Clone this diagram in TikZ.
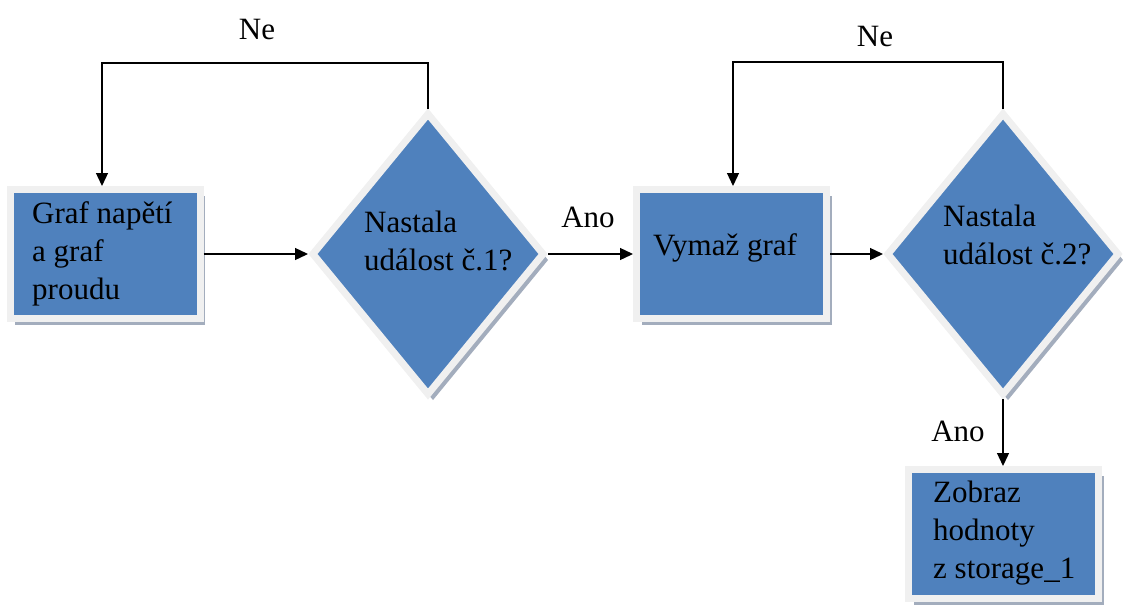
\documentclass[tikz,border=0pt]{standalone}
\usepackage{fontspec}
\setmainfont{Liberation Serif}
\usetikzlibrary{arrows.meta,shapes.geometric,shadows}
\definecolor{boxblue}{HTML}{4F81BD}
\definecolor{framegray}{HTML}{F0F0F0}
\definecolor{shadowgray}{HTML}{A3ADBD}
\begin{document}
\begin{tikzpicture}[x=1pt,y=-1pt,
  proc/.style={rectangle, fill=boxblue, draw=framegray, line width=7pt,
    minimum width=190pt, minimum height=129pt, inner sep=0pt,
    drop shadow={shadow xshift=5pt, shadow yshift=-6pt, fill=shadowgray, opacity=1}},
  decis/.style={diamond, fill=boxblue, draw=framegray, line width=7pt,
    minimum width=233pt, minimum height=283pt, inner sep=0pt,
    drop shadow={shadow xshift=5pt, shadow yshift=-6pt, fill=shadowgray, opacity=1}},
  lbl/.style={font=\fontsize{31}{38}\selectfont, inner sep=0pt, align=left, anchor=west},
  conn/.style={line width=1.3pt, -{Triangle[length=13pt,width=12pt]}}
]
\useasboundingbox (0,0) rectangle (1123,605);
\node[proc] (b1) at (105,254) {};
\node[proc] (b2) at (731.5,254) {};
\node[proc] (b3) at (1003.5,534) {};
\node[decis] (d1) at (428,254) {};
\node[decis] (d2) at (1003,254) {};

\node[lbl] (t1) at (32,254) {Graf napětí\\a graf\\proudu};
\node[lbl] (t2) at (364,241) {Nastala\\událost č.1?};
\node[lbl, anchor=base west] (t3) at (653,255) {Vymaž graf};
\node[lbl] (t4) at (943,235) {Nastala\\událost č.2?};
\node[lbl] (t5) at (933,533) {Zobraz\\hodnoty\\z storage\_1};

\node[lbl, anchor=center] (n1) at (257,30) {Ne};
\node[lbl, anchor=center] (n2) at (875,37) {Ne};
\node[lbl, anchor=center] (a1) at (588,217) {Ano};
\node[lbl, anchor=center] (a2) at (958,431) {Ano};

\draw[conn] (b1.east) -- (d1.west);
\draw[conn] (d1.east) -- (b2.west);
\draw[conn] (b2.east) -- (d2.west);
\draw[conn] (d2.south) -- (d2.south |- b3.north);
\coordinate (k1) at (102,63);
\draw[conn] (d1.north) |- (k1) -- (k1 |- b1.north);
\coordinate (k2) at (733,62);
\draw[conn] (d2.north) |- (k2) -- (k2 |- b2.north);
\end{tikzpicture}
\end{document}
